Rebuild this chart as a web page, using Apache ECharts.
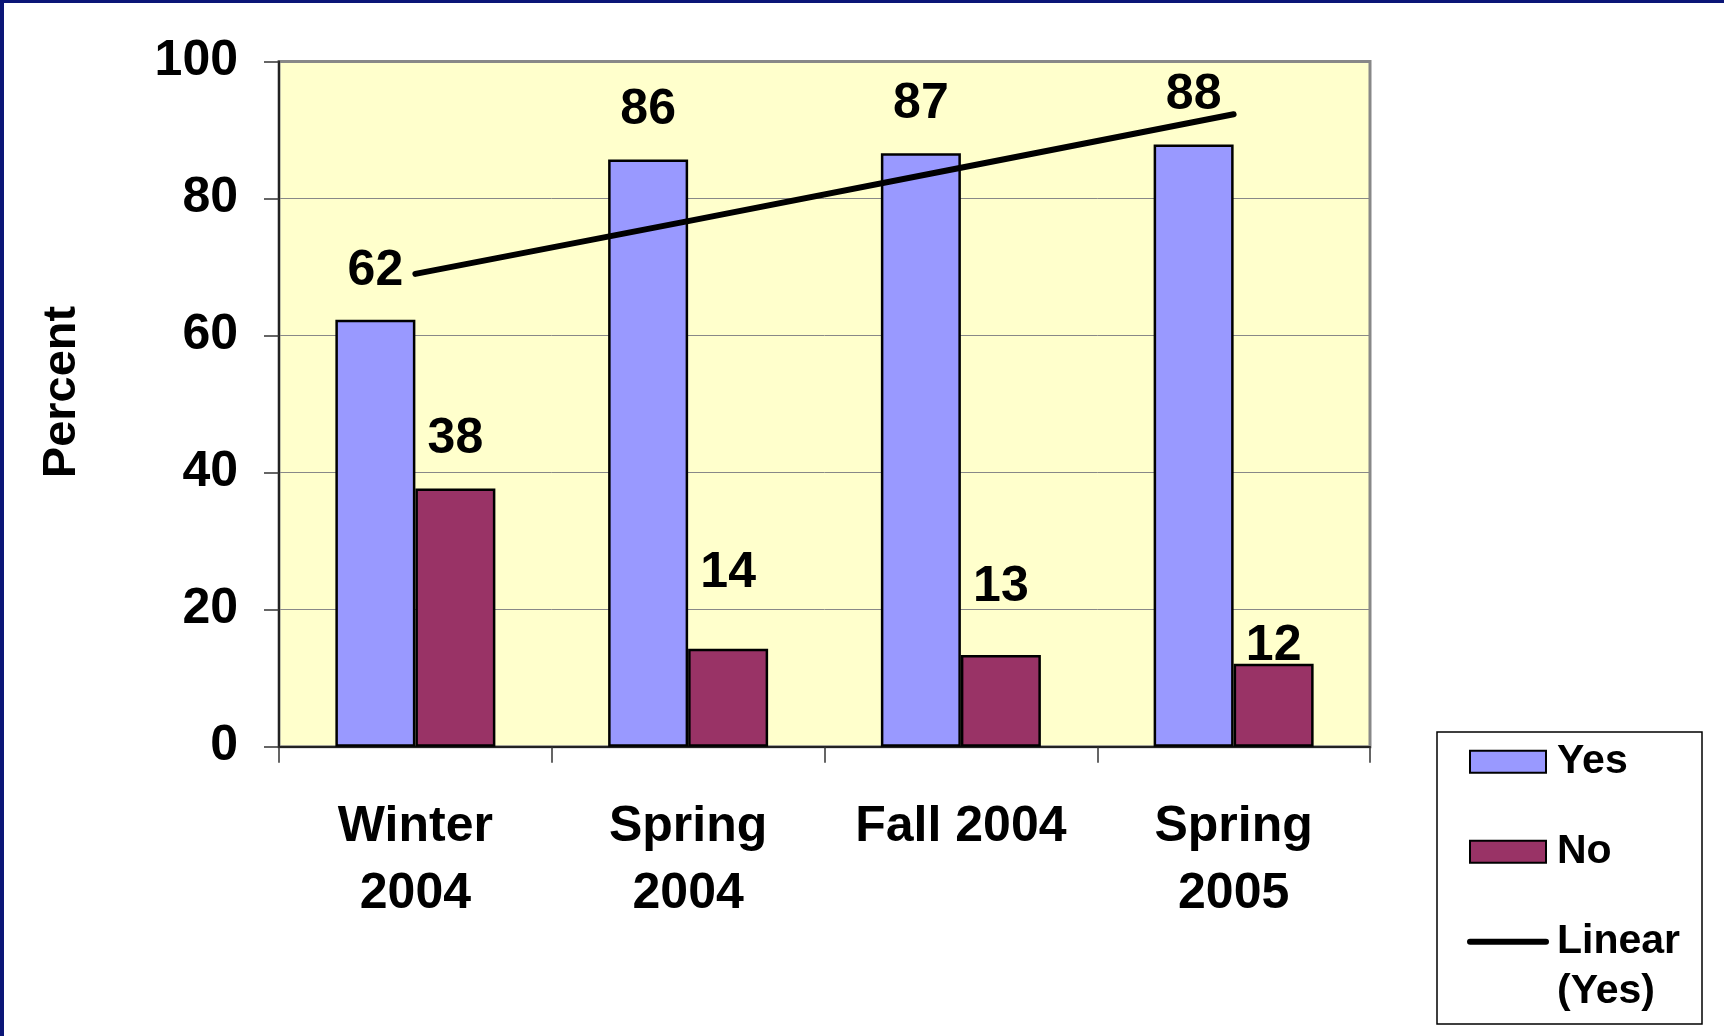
<!DOCTYPE html>
<html>
<head>
<meta charset="utf-8">
<title>Percent Yes / No</title>
<script src="https://cdn.jsdelivr.net/npm/echarts@6/dist/echarts.min.js"></script>
<style>
  html, body { margin: 0; padding: 0; background: #fff; }
  #main { width: 1724px; height: 1036px; }
</style>
</head>
<body>
<div id="main"></div>
<script>
const categories = ['Winter\n2004', 'Spring\n2004', 'Fall 2004', 'Spring\n2005'];
const yesValues = [62.3, 85.7, 86.6, 87.9];
const noValues = [37.7, 14.3, 13.4, 12.1];
// Excel trend line for "Yes"
const trendYes = [69.0, 76.7, 84.5, 92.3];
const yTicks = {min: 0, max: 100, interval: 20};

// how far above the bar top each "No" label sits (labels were moved by hand)
const noLabelLift = [49, 75, 68, 18];
const yesLabelLift = 49;

const font = '"Liberation Sans", Arial, sans-serif';
const LABEL_LH = 50;
const TREND = 'Linear (Yes)';

const chart = echarts.init(document.getElementById('main'));

const barLabel = {
  show: true,
  position: 'top',
  color: '#000',
  fontFamily: font,
  fontWeight: 'bold',
  fontSize: 50,
  lineHeight: LABEL_LH,
  formatter: p => Math.round(p.value)
};

chart.setOption({
  animation: false,
  textStyle: {fontFamily: font},
  grid: {
    left: 279, top: 61.5, right: 354, bottom: 289.3,
    show: true,
    backgroundColor: '#FFFFCC',
    borderColor: '#888',
    borderWidth: 3,
    outerBoundsMode: 'none'
  },
  legend: {
    orient: 'vertical',
    left: 1467,
    top: 686.7,
    padding: 0,
    itemGap: -60,
    itemWidth: 76,
    itemHeight: 22,
    selectedMode: false,
    formatter: name => name === TREND ? '{t|Linear}\n{t|(Yes)}' : name,
    textStyle: {
      color: '#000', fontFamily: font, fontWeight: 'bold',
      fontSize: 41, lineHeight: 50, padding: [50, 0, 50, 6],
      rich: {
        t: {color: '#000', fontFamily: font, fontWeight: 'bold', fontSize: 41, lineHeight: 50}
      }
    },
    data: [
      {name: 'Yes', icon: 'rect'},
      {name: 'No', icon: 'rect'},
      {
        name: TREND,
        itemStyle: {opacity: 0},
        lineStyle: {width: 6, cap: 'round'},
        textStyle: {padding: [50, 0, 0, 6]}
      }
    ]
  },
  xAxis: {
    type: 'category',
    data: categories,
    axisLine: {show: true, lineStyle: {color: '#222', width: 2}},
    axisTick: {show: true, length: 16, lineStyle: {color: '#333', width: 1.5}},
    axisLabel: {
      interval: 0, margin: 47, color: '#000',
      fontFamily: font, fontWeight: 'bold', fontSize: 50, lineHeight: 67
    },
    splitLine: {show: false}
  },
  yAxis: {
    type: 'value',
    min: yTicks.min, max: yTicks.max, interval: yTicks.interval,
    axisLine: {show: true, lineStyle: {color: '#222', width: 2}},
    axisTick: {show: true, length: 15, lineStyle: {color: '#333', width: 1.5}},
    axisLabel: {
      margin: 41, color: '#000',
      fontFamily: font, fontWeight: 'bold', fontSize: 50
    },
    splitLine: {show: true, lineStyle: {color: '#888', width: 1}}
  },
  series: [
    {
      name: 'Yes',
      type: 'bar',
      barWidth: 80,
      barGap: '0%',
      itemStyle: {color: '#9999FF', borderColor: '#000', borderWidth: 2.5},
      label: Object.assign({}, barLabel, {distance: yesLabelLift - LABEL_LH / 2}),
      data: yesValues
    },
    {
      name: 'No',
      type: 'bar',
      barWidth: 80,
      itemStyle: {color: '#993366', borderColor: '#000', borderWidth: 2.5},
      label: barLabel,
      data: noValues.map((v, i) => ({
        value: v,
        label: {distance: noLabelLift[i] - LABEL_LH / 2}
      }))
    },
    {
      name: TREND,
      type: 'line',
      data: trendYes,
      symbol: 'none',
      z: 5,
      lineStyle: {color: '#000', width: 6, cap: 'round'},
      itemStyle: {color: '#000'}
    }
  ],
  graphic: [
    {type: 'rect', shape: {x: 0, y: 0, width: 1724, height: 3}, style: {fill: '#0b1677'}},
    {type: 'rect', shape: {x: 0, y: 0, width: 4, height: 1036}, style: {fill: '#0b1677'}},
    {
      type: 'rect', z: -1,
      shape: {x: 1437, y: 732, width: 265, height: 292},
      style: {fill: '#fff', stroke: '#000', lineWidth: 1.5}
    },
    {
      type: 'text', x: 62, y: 392, rotation: Math.PI / 2,
      style: {
        text: 'Percent', fill: '#000', font: 'bold 47px ' + font,
        align: 'center', verticalAlign: 'middle'
      }
    }
  ]
});
</script>
</body>
</html>
